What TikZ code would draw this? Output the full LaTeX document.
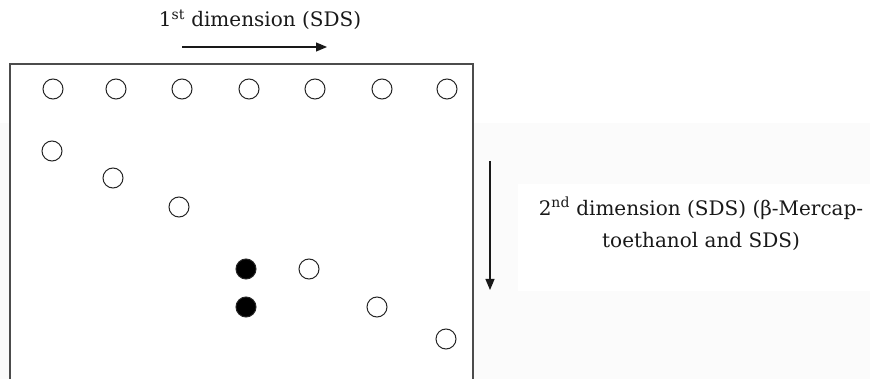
\documentclass[tikz,border=0pt]{standalone}
\usepackage{fontspec}
\setmainfont{DejaVu Serif}
\usetikzlibrary{arrows.meta}

\begin{document}
\begin{tikzpicture}[x=1pt, y=-1pt,
    spot/.style={circle, draw=black!85, line width=1pt, minimum size=20pt, inner sep=0pt},
    hit/.style={spot, fill=black},
    lbl/.style={font=\fontsize{20}{32}\selectfont, text=black!90, inner sep=0pt, align=center},
    flow/.style={-{Triangle[length=11pt, width=9pt]}, line width=1.2pt, black!90}]
  \useasboundingbox (0,0) rectangle (870,379);

  % faint backdrop of the page
  \fill[black!1.5] (0,123) rectangle (870,379);
  \fill[white] (10,64) rectangle (473,379);
  \fill[white] (518,184) rectangle (870,291);

  % ----- Gel frame (open at the bottom) -----
  \draw[line width=1.5pt, black!70] (10,379) -- (10,64) -- (473,64) -- (473,379);

  % ----- First dimension: top row -----
  \foreach \x [count=\i] in {53,116,182,249,315,382,447}
    \node[spot] (top\i) at (\x,89) {};

  % ----- Second dimension: diagonal -----
  \node[spot] (d1) at (52,151) {};
  \node[spot] (d2) at (113,178) {};
  \node[spot] (d3) at (179,207) {};
  \node[spot] (d4) at (309,269) {};
  \node[spot] (d5) at (377,307) {};
  \node[spot] (d6) at (446,339) {};

  % Off-diagonal spots
  \node[hit] (h1) at (246,269) {};
  \node[hit] (h2) at (246,307) {};

  % ----- Labels and run directions -----
  \node[lbl, anchor=base] (dim1) at (260,27) {1\textsuperscript{st} dimension (SDS)};
  \coordinate (run1a) at (182,47);
  \coordinate (run1b) at (327,47);
  \draw[flow] (run1a) -- (run1b);

  \node[lbl] (dim2) at (701,224) {2\textsuperscript{nd} dimension (SDS) (β-Mercap-\\toethanol and SDS)};
  \coordinate (run2a) at (490,161);
  \coordinate (run2b) at (490,290);
  \draw[flow] (run2a) -- (run2b);
\end{tikzpicture}
\end{document}
